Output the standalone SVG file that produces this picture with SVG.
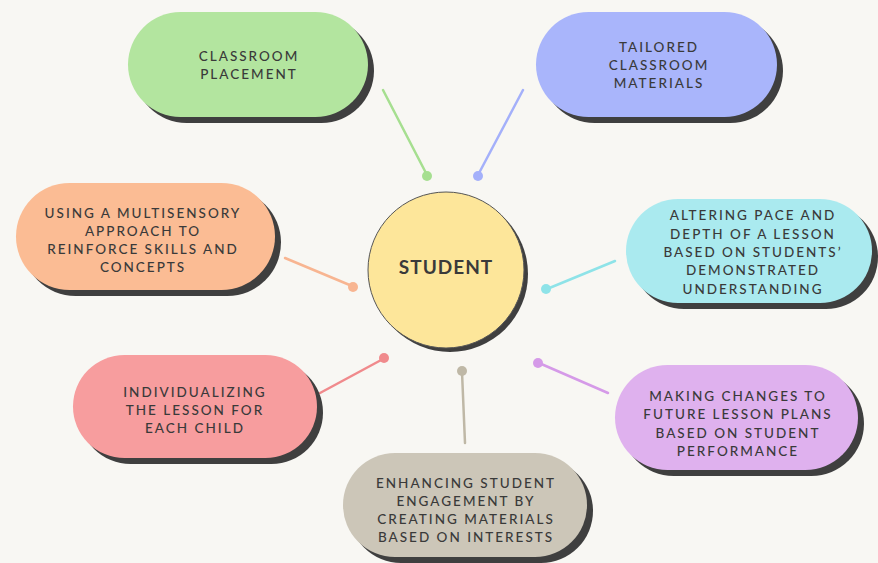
<svg xmlns="http://www.w3.org/2000/svg" width="878" height="563" viewBox="0 0 878 563">
<style>
.sh{fill:#3f3f3f}
.t{font-family:Lato,"Open Sans",sans-serif;font-size:13.5px;fill:#3a3a3a;text-anchor:middle;letter-spacing:2px;font-weight:500}
.c{stroke-width:2.5;fill:none;stroke-linecap:round}
</style>
<rect width="878" height="563" fill="#f8f7f3"/>
<g id="connectors">
<line class="c" x1="383" y1="90" x2="427" y2="175" stroke="#a6df90"/><circle cx="427" cy="176" r="5" fill="#a6df90"/>
<line class="c" x1="523" y1="90" x2="478" y2="175" stroke="#a4b0fa"/><circle cx="478" cy="176" r="5" fill="#a4b0fa"/>
<line class="c" x1="285" y1="258" x2="352" y2="286" stroke="#f8b591"/><circle cx="353" cy="287" r="5" fill="#f8b591"/>
<line class="c" x1="615" y1="261" x2="547" y2="289" stroke="#8ee3e8"/><circle cx="546" cy="289" r="5" fill="#8ee3e8"/>
<line class="c" x1="320" y1="393" x2="383" y2="359" stroke="#f08a8c"/><circle cx="384" cy="358" r="5" fill="#f08a8c"/>
<line class="c" x1="608" y1="393" x2="539" y2="363" stroke="#d59ae8"/><circle cx="538" cy="363" r="5" fill="#d59ae8"/>
<line class="c" x1="465" y1="443" x2="462" y2="372" stroke="#bfb8a6"/><circle cx="462" cy="371" r="5" fill="#bfb8a6"/>
</g>
<g id="student">
<circle class="sh" cx="450" cy="274" r="78"/>
<circle cx="446" cy="270" r="78" fill="#fde69a" stroke="#555" stroke-width="1"/>
<text x="446" y="274" font-family="Lato,'Open Sans',sans-serif" font-size="19" font-weight="bold" fill="#3a3a3a" text-anchor="middle" letter-spacing="1">STUDENT</text>
</g>
<g id="classroom-placement">
<rect class="sh" x="134" y="18" width="240" height="105" rx="52.5"/>
<rect x="128" y="12" width="240" height="105" rx="52.5" fill="#b3e59f"/>
<text class="t" x="249" y="61">CLASSROOM</text>
<text class="t" x="249" y="79">PLACEMENT</text>
</g>
<g id="tailored-materials">
<rect class="sh" x="542" y="18" width="241" height="105" rx="52.5"/>
<rect x="536" y="12" width="241" height="105" rx="52.5" fill="#a9b5fb"/>
<text class="t" x="659" y="52">TAILORED</text>
<text class="t" x="659" y="70">CLASSROOM</text>
<text class="t" x="659" y="88">MATERIALS</text>
</g>
<g id="multisensory">
<rect class="sh" x="22" y="189" width="259" height="107" rx="53.5"/>
<rect x="16" y="183" width="259" height="107" rx="53.5" fill="#fbbc94"/>
<text class="t" x="143" y="218">USING A MULTISENSORY</text>
<text class="t" x="143" y="236">APPROACH TO</text>
<text class="t" x="143" y="254">REINFORCE SKILLS AND</text>
<text class="t" x="143" y="272">CONCEPTS</text>
</g>
<g id="altering-pace">
<rect class="sh" x="632" y="205" width="246" height="104" rx="52"/>
<rect x="626" y="199" width="246" height="104" rx="52" fill="#aaeaef"/>
<text class="t" x="753" y="220">ALTERING PACE AND</text>
<text class="t" x="753" y="239">DEPTH OF A LESSON</text>
<text class="t" x="753" y="257">BASED ON STUDENTS’</text>
<text class="t" x="753" y="275">DEMONSTRATED</text>
<text class="t" x="753" y="294">UNDERSTANDING</text>
</g>
<g id="individualizing">
<rect class="sh" x="79" y="361" width="244" height="103" rx="51.5"/>
<rect x="73" y="355" width="244" height="103" rx="51.5" fill="#f79d9e"/>
<text class="t" x="195" y="397">INDIVIDUALIZING</text>
<text class="t" x="195" y="415">THE LESSON FOR</text>
<text class="t" x="195" y="433">EACH CHILD</text>
</g>
<g id="future-plans">
<rect class="sh" x="621" y="371" width="243" height="105" rx="52.5"/>
<rect x="615" y="365" width="243" height="105" rx="52.5" fill="#dfb1ee"/>
<text class="t" x="738" y="401">MAKING CHANGES TO</text>
<text class="t" x="738" y="419">FUTURE LESSON PLANS</text>
<text class="t" x="738" y="438">BASED ON STUDENT</text>
<text class="t" x="738" y="456">PERFORMANCE</text>
</g>
<g id="engagement">
<rect class="sh" x="349" y="459" width="244" height="104" rx="52"/>
<rect x="343" y="453" width="244" height="104" rx="52" fill="#ccc6b8"/>
<text class="t" x="466" y="488">ENHANCING STUDENT</text>
<text class="t" x="466" y="506">ENGAGEMENT BY</text>
<text class="t" x="466" y="524">CREATING MATERIALS</text>
<text class="t" x="466" y="542">BASED ON INTERESTS</text>
</g>
</svg>
